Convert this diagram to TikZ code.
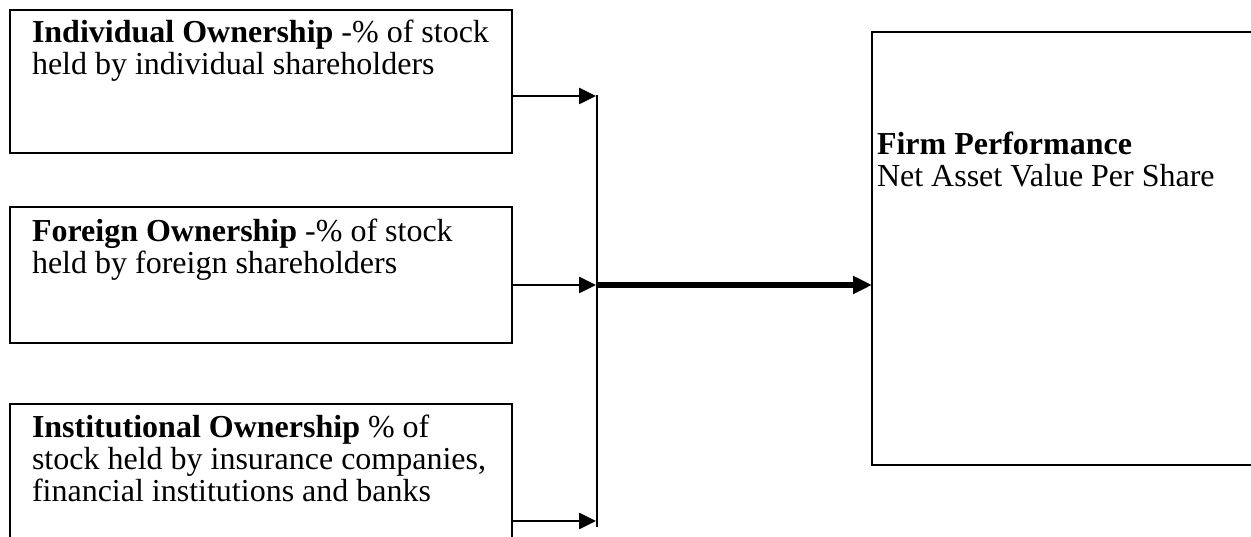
\documentclass[tikz,border=0pt]{standalone}
\usepackage{fontspec}
\setmainfont{Liberation Serif}
\usetikzlibrary{arrows.meta}
\begin{document}
\begin{tikzpicture}[x=1pt,y=-1pt,
  box/.style={draw=black, line width=2.2pt, rectangle, inner sep=0pt, outer sep=0pt, anchor=north west},
  txt/.style={inner sep=0pt, outer sep=0pt, anchor=base west, font=\fontsize{32pt}{32pt}\selectfont},
  arr/.style={line width=2.6pt, -{Triangle[length=17pt,width=16pt]}},
  bigarr/.style={line width=5.5pt, -{Triangle[length=19pt,width=17pt]}},
  joinline/.style={line width=2.2pt}]
\useasboundingbox (0,0) rectangle (1251,537);
\clip (0,0) rectangle (1251,537);
% boxes
\node[box, minimum width=502pt, minimum height=143pt] (ind) at (10,10) {};
\node[box, minimum width=502pt, minimum height=136pt] (for) at (10,207) {};
\node[box, minimum width=502pt, minimum height=170pt] (ins) at (10,404) {};
\node[box, minimum width=430pt, minimum height=433pt] (firm) at (872,32) {};
% texts
\node[txt] (ind1) at (32,43) {\textbf{Individual Ownership} -\% of stock};
\node[txt] (ind2) at (32,75) {held by individual shareholders};
\node[txt] (for1) at (32,242) {\textbf{Foreign Ownership} -\% of stock};
\node[txt] (for2) at (32,274) {held by foreign shareholders};
\node[txt] (ins1) at (32,437) {\textbf{Institutional Ownership} \% of};
\node[txt] (ins2) at (32,469) {stock held by insurance companies,};
\node[txt] (ins3) at (32,501) {financial institutions and banks};
\node[txt] (firm1) at (877,155) {\textbf{Firm Performance}};
\node[txt] (firm2) at (877,187) {Net Asset Value Per Share};
% connectors
\coordinate (jtop) at (597,95);
\coordinate (jbot) at (597,527);
\coordinate (j1) at (596,96);
\coordinate (j2) at (596,285);
\coordinate (j3) at (596,521);
\coordinate (j2r) at (598,285);
\draw[joinline] (jtop) -- (jbot);
\draw[arr] (ind.east |- j1) -- (j1);
\draw[arr] (for.east |- j2) -- (j2);
\draw[arr] (ins.east |- j3) -- (j3);
\draw[bigarr] (j2r) -- (firm.west |- j2r);
\end{tikzpicture}
\end{document}
